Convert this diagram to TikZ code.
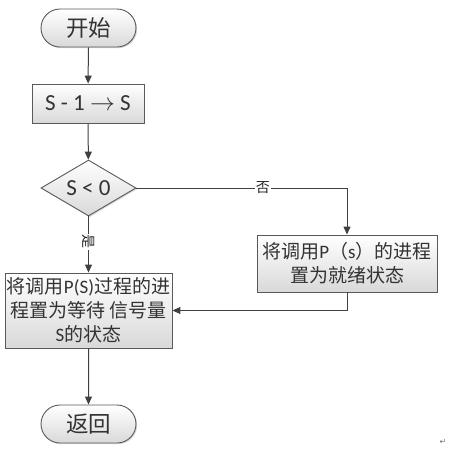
\documentclass[tikz,border=0pt]{standalone}
\usepackage{fontspec}
\setmainfont{Carlito}
\newfontfamily\cjk{Noto Sans CJK SC}
\newfontfamily\djv{DejaVu Sans}
\usetikzlibrary{shapes.geometric,shapes.misc,arrows.meta,shadows}
\begin{document}
\begin{tikzpicture}[x=1pt,y=-1pt,
  shapebase/.style={draw=black!65,line width=0.9pt,top color=white,bottom color=black!15,
    drop shadow={shadow xshift=1.2pt,shadow yshift=-1.2pt,fill=black!25,opacity=0.6},
    inner sep=0pt,align=center,text=black!80},
  term/.style={shapebase,rounded rectangle,minimum width=95pt,minimum height=38pt,font=\cjk\fontsize{22.5}{26}\selectfont},
  procbox/.style={shapebase,rectangle,font=\fontsize{19}{24}\selectfont},
  decide/.style={shapebase,diamond,aspect=1.7,minimum width=95pt,minimum height=56pt,font=\fontsize{23}{26}\selectfont},
  conn/.style={draw=black!75,line width=1pt,-{Triangle[length=8pt,width=7pt]}},
  lbl/.style={fill=white,inner sep=1pt,font=\cjk\fontsize{14}{15}\selectfont,text=black!85}]
\useasboundingbox (0,0) rectangle (469,459);
\node[term] (start) at (88.5,28) {开始};
\node[procbox,minimum width=112pt,minimum height=39pt,font=\fontsize{23}{26}\selectfont] (dec1) at (88,103.5) {S - 1 $\rightarrow$ S};
\node[decide] (cond) at (88.5,188) {S \textless{} 0};
\node[procbox,minimum width=180pt,minimum height=57pt] (ready) at (347,263.5)
  {{\cjk 将调用}P{\cjk （}s{\cjk ）的进程}\\{\cjk 置为就绪状态}};
\node[procbox,minimum width=167pt,minimum height=75pt] (wait) at (88.5,310.5)
  {{\cjk 将调用}P(S){\cjk 过程的进}\\{\cjk 程置为等待 信号量}\\S{\cjk 的状态}};
\node[term] (ret) at (88.5,424) {返回};
\node[text=black!55,font=\djv\fontsize{8}{8}\selectfont,inner sep=0pt] (mark) at (443,442) {↵};
\draw[conn] (start) -- (dec1);
\draw[conn] (dec1) -- (cond);
\draw[conn] (cond.east) -| node[lbl,pos=0.3] {否} (ready.north);
\draw[conn] (cond.south) -- node[lbl,rotate=-90,pos=0.45] {是} (wait.north);
\draw[conn] (ready.south) |- (wait.east);
\draw[conn] (wait) -- (ret);
\end{tikzpicture}
\end{document}
